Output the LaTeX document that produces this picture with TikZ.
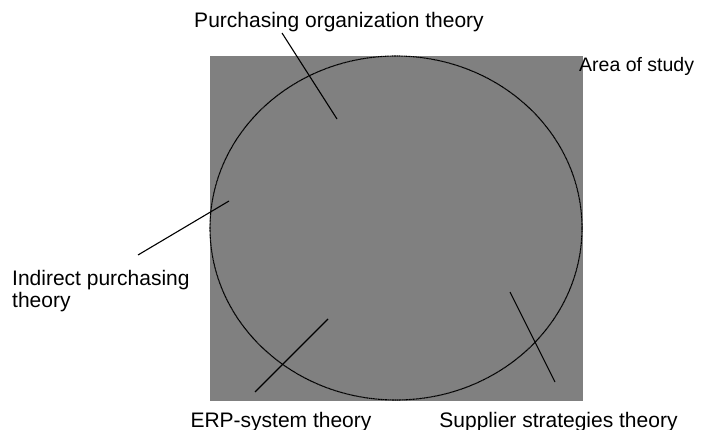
\documentclass[tikz,border=0pt]{standalone}
\usepackage{fontspec}
\setmainfont{Liberation Sans}
\usetikzlibrary{shapes.geometric}
\definecolor{areagray}{RGB}{128,128,128}
\tikzset{
  lbl/.style={inner sep=0pt, font=\fontsize{21}{22}\selectfont, align=left},
  leader/.style={draw=black, line width=1.1pt},
  rim/.style={draw=black, line width=1.1pt, dash pattern=on 1pt off 0.4pt}
}
\begin{document}
\begin{tikzpicture}[x=1pt,y=-1pt]
\useasboundingbox (0,0) rectangle (701,430);
\fill[areagray] (210,56) rectangle (583,401);
\node[rim, ellipse, inner sep=0pt, minimum width=372pt, minimum height=344pt] (area) at (396,228) {};
\node[lbl, anchor=base west, font=\fontsize{19.5}{22}\selectfont] (aos) at (579,72) {Area of study};
\node[lbl, anchor=base] (pot) at (339,28) {Purchasing organization theory};
\node[lbl, anchor=north west] (ipt) at (12,270.5) {Indirect purchasing\\theory};
\node[lbl, anchor=base] (erp) at (281,427) {ERP-system theory};
\node[lbl, anchor=base] (sst) at (558.5,427) {Supplier strategies theory};
\coordinate (p1) at (282,33);
\coordinate (p2) at (337,119);
\coordinate (i1) at (138,255);
\coordinate (i2) at (229,201);
\coordinate (e1) at (255,392);
\coordinate (e2) at (328,319);
\coordinate (s1) at (555,382);
\coordinate (s2) at (510,292);
\draw[leader] (p1) -- (p2);
\draw[leader] (i1) -- (i2);
\draw[leader] (e1) -- (e2);
\draw[leader] (s1) -- (s2);
\end{tikzpicture}
\end{document}
